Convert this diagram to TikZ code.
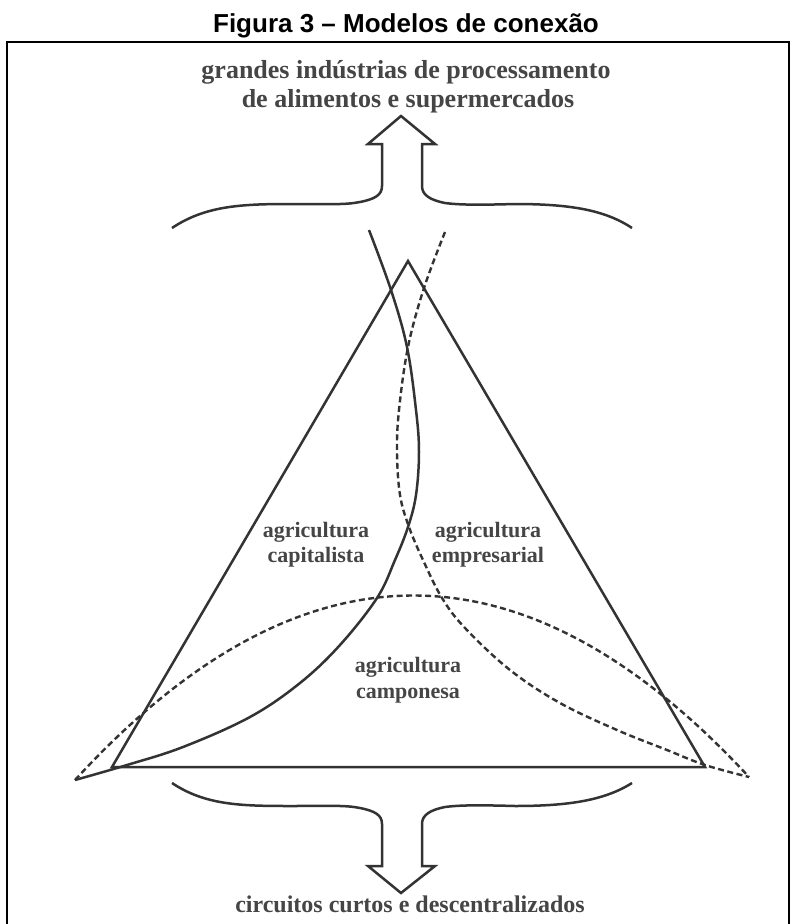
\documentclass[tikz,border=0pt]{standalone}
\usepackage{fontspec}
\setmainfont{Liberation Serif}
\newfontfamily\titlefont{Liberation Sans}
\definecolor{ink}{HTML}{333333}
\definecolor{txt}{HTML}{454545}
\begin{document}
\begin{tikzpicture}[x=1pt,y=-1pt,
  ln/.style={line width=2.5pt, draw=ink, line join=miter},
  dsh/.style={line width=2.4pt, draw=ink, dash pattern=on 6pt off 3.5pt},
  bigtxt/.style={font=\fontsize{26}{29}\selectfont\bfseries, text=txt, inner sep=0pt, anchor=base},
  bottxt/.style={font=\fontsize{24}{28}\selectfont\bfseries, text=txt, inner sep=0pt, anchor=base},
  lbl/.style={font=\fontsize{22}{25}\selectfont\bfseries, text=txt, inner sep=0pt, anchor=base},
]
\useasboundingbox (0,0) rectangle (795,924);
\fill[white] (0,0) rectangle (795,924);

% title
\node[font=\titlefont\bfseries\fontsize{26}{30}\selectfont, inner sep=0pt, anchor=base] (title) at (406,32) {Figura 3 – Modelos de conexão};

% frame
\draw[line width=2.5pt, black] (7,930) -- (7,42) -- (789,42) -- (789,930);

% top texts
\node[bigtxt] (top1) at (406,78) {grandes indústrias de processamento};
\node[bigtxt] (top2) at (408,107) {de alimentos e supermercados};

% bottom text
\node[bottxt] (bot) at (410,912) {circuitos curtos e descentralizados};

% key points
\coordinate (apex) at (408,261);
\coordinate (bl) at (112,767);
\coordinate (br) at (705,767);
\coordinate (farL) at (75,780);
\coordinate (farR) at (749,777);

% top brace with arrow
\draw[ln] (172,228) .. controls (205,206) and (240,204) .. (290,204)
  .. controls (330,204) and (345,205) .. (360,202)
  .. controls (375,199) and (382,195) .. (382,186)
  -- (382,144) -- (368,144) -- (401,116) -- (435,144) -- (422,144) -- (422,186)
  .. controls (422,195) and (430,200) .. (445,203)
  .. controls (460,205) and (480,205) .. (515,204)
  .. controls (570,204) and (605,210) .. (632,228);

% bottom brace with arrow
\draw[ln] (172,783) .. controls (205,805) and (240,806) .. (290,806)
  .. controls (330,806) and (345,805) .. (360,808)
  .. controls (375,811) and (382,815) .. (382,824)
  -- (382,866) -- (368,866) -- (401,893) -- (435,866) -- (422,866) -- (422,824)
  .. controls (422,815) and (430,810) .. (445,807)
  .. controls (460,805) and (480,805) .. (515,806)
  .. controls (570,806) and (605,800) .. (632,783);

% triangle
\draw[ln] (apex) -- (br) -- (bl) -- cycle;

% capitalist curve (solid)
\draw[ln] plot[smooth, tension=0.6] coordinates {(369,230) (391,290) (407,347) (416,410) (419,452) (416,495) (408,527) (395,560) (377,598) (340,645) (300,683) (250,717) (183,747) (127,765) (farL)};

% business curve (dashed)
\draw[dsh] plot[smooth, tension=0.6] coordinates {(445,232) (424,288) (408,347) (399,410) (397,452) (400,495) (409,527) (423,560) (442,598) (465,628) (510,670) (560,703) (617,730) (667,750) (705,765) (farR)};

% peasant arc (dashed)
\draw[dsh] (farL) .. controls (300,535) and (524,534) .. (farR);

% labels
\node[lbl] (cap1) at (316,537) {agricultura};
\node[lbl] (cap2) at (316,562) {capitalista};
\node[lbl] (emp1) at (488,537) {agricultura};
\node[lbl] (emp2) at (488,562) {empresarial};
\node[lbl] (cam1) at (408,672) {agricultura};
\node[lbl] (cam2) at (408,698) {camponesa};
\end{tikzpicture}
\end{document}
